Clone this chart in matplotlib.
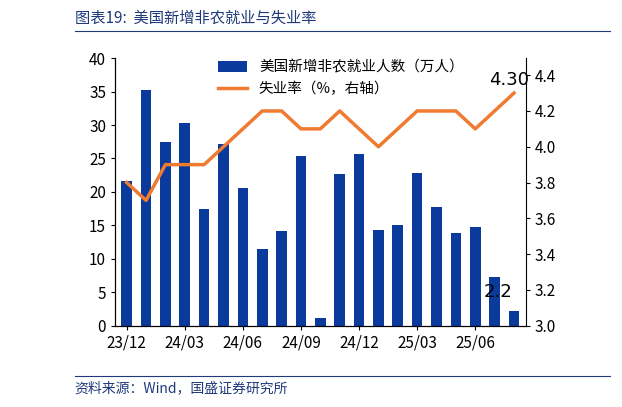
import matplotlib
matplotlib.use("Agg")
import matplotlib.pyplot as plt

plt.rcParams['font.family'] = ['Noto Sans CJK SC', 'DejaVu Sans']

months = ["23/12", "24/01", "24/02", "24/03", "24/04", "24/05", "24/06", "24/07", "24/08",
          "24/09", "24/10", "24/11", "24/12", "25/01", "25/02", "25/03", "25/04", "25/05",
          "25/06", "25/07", "25/08"]
payrolls = [21.6, 35.3, 27.5, 30.3, 17.5, 27.2, 20.6, 11.4, 14.2, 25.4, 1.2, 22.7,
            25.6, 14.3, 15.1, 22.8, 17.7, 13.9, 14.7, 7.3, 2.2]
unemp = [3.8, 3.7, 3.9, 3.9, 3.9, 4.0, 4.1, 4.2, 4.2, 4.1, 4.1, 4.2, 4.1, 4.0,
         4.1, 4.2, 4.2, 4.2, 4.1, 4.2, 4.3]

fig = plt.figure(figsize=(6.22, 4.07), dpi=100)
ax = fig.add_axes([0.185, 0.2, 0.66, 0.657])
x = list(range(len(months)))
b = ax.bar(x, payrolls, width=0.55, color="#0a3a9c", label="美国新增非农就业人数（万人）")
ax.set_ylim(0, 40)
ax.set_yticks(range(0, 41, 5))
ax.set_xlim(-0.6, len(x) - 0.4)
ax.set_xticks(x[::3])
ax.set_xticklabels(months[::3])
ax2 = ax.twinx()
l, = ax2.plot(x, unemp, color="#ee7b30", lw=2.5, label="失业率（%，右轴）")
ax2.set_ylim(3.0, 4.495)
ax2.set_yticks([3.0, 3.2, 3.4, 3.6, 3.8, 4.0, 4.2, 4.4])
ax2.set_yticklabels([f"{v:.1f}" for v in ax2.get_yticks()])
for a in (ax, ax2):
    a.spines["top"].set_visible(False)
    a.tick_params(labelsize=11, length=3)
ax.spines["right"].set_visible(False)
ax2.annotate("4.30", (x[-1], unemp[-1]), xytext=(-18, 6), textcoords="offset points",
             fontsize=13, family="DejaVu Sans")
ax.annotate("2.2", (x[-1], payrolls[-1]), xytext=(-22, 10), textcoords="offset points",
            fontsize=13, family="DejaVu Sans")
ax.legend([b, l], [b.get_label(), l.get_label()], loc="upper center",
          bbox_to_anchor=(0.55, 1.04), frameon=False, fontsize=10.5)

fig.text(0.12, 0.955, "图表19:  美国新增非农就业与失业率", fontsize=11, style="italic",
         color="#1f3a7a", va="center")
fig.add_artist(plt.Line2D([0.12, 0.98], [0.925, 0.925], color="#1f3a7a", lw=0.8))
fig.add_artist(plt.Line2D([0.12, 0.98], [0.075, 0.075], color="#1f3a7a", lw=0.8))
fig.text(0.12, 0.045, "资料来源：Wind，国盛证券研究所", fontsize=10, style="italic",
         color="#1f3a7a", va="center")
fig.savefig("out.png", dpi=100)
